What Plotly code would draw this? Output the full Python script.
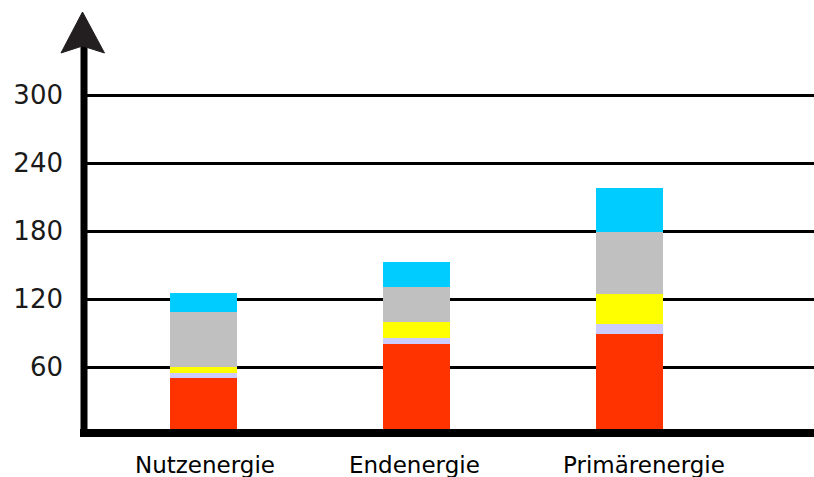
import plotly.graph_objects as go

# ---- data ----
categories = ["Nutzenergie", "Endenergie", "Primärenergie"]
red_vals = [51, 81, 89]
lavender_vals = [4, 5, 9]
yellow_vals = [5, 14, 27]
gray_vals = [49, 31, 54]
cyan_vals = [17, 22, 39]
y_ticks = [60, 120, 180, 240, 300]

series = [
    (red_vals, "#FF3300"),
    (lavender_vals, "#CCCCFF"),
    (yellow_vals, "#FFFF00"),
    (gray_vals, "#C0C0C0"),
    (cyan_vals, "#00CCFF"),
]

W, H = 814, 477
ML, MR, MT, MB = 84, 0, 0, 0
PW, PH = W - ML - MR, H - MT - MB

def px_x(px):
    return (px - ML) / PW

def px_y(py):
    return (H - MB - py) / PH

fig = go.Figure()
xs = list(range(len(categories)))
for vals, col in series:
    fig.add_trace(go.Bar(x=xs, y=vals, marker=dict(color=col, line=dict(width=0)),
                         width=0.3146, showlegend=False, hoverinfo="skip"))

# category labels
label_shift = [1, -2, 14]
for i, (c, s) in enumerate(zip(categories, label_shift)):
    fig.add_annotation(x=i, y=0, xref="x", yref="y", text=c, showarrow=False,
                       yanchor="top", yshift=-15, xshift=s,
                       font=dict(family="DejaVu Sans", size=23, color="#000000"))

shapes = []
# x axis line
shapes.append(dict(type="line", xref="paper", yref="paper", x0=px_x(80), x1=1,
                   y0=px_y(433), y1=px_y(433), line=dict(color="#000000", width=8), layer="above"))
# y axis line
shapes.append(dict(type="line", xref="paper", yref="paper", x0=px_x(84), x1=px_x(84),
                   y0=px_y(437), y1=px_y(46), line=dict(color="#000000", width=7), layer="above"))
# arrow head
pts = [(82.5, 12), (104.5, 53), (82.5, 46), (61, 53)]
path = "M " + " L ".join(f"{px_x(a):.5f},{px_y(b):.5f}" for a, b in pts) + " Z"
shapes.append(dict(type="path", xref="paper", yref="paper", path=path,
                   fillcolor="#231F20", line=dict(color="#231F20", width=1), layer="above"))

y0 = -(H - 435.3) / (68 / 60)
y1 = 435.3 / (68 / 60)
fig.update_layout(
    width=W, height=H, margin=dict(l=ML, r=MR, t=MT, b=MB),
    paper_bgcolor="white", plot_bgcolor="white", barmode="stack", bargap=0,
    showlegend=False, shapes=shapes,
    xaxis=dict(range=[(ML - 203.5) / 213, (W - 203.5) / 213], showgrid=False,
               zeroline=False, showticklabels=False, fixedrange=True),
    yaxis=dict(range=[y0, y1], tickvals=y_ticks, ticktext=[str(v) for v in y_ticks],
               showgrid=True, gridcolor="#000000", gridwidth=3, zeroline=False,
               ticks="", ticklabelstandoff=20,
               tickfont=dict(family="DejaVu Sans", size=26, color="#1a1a1a")),
)

fig.write_html("out.html", config={"displayModeBar": False},
               post_script="document.body.style.margin='0';document.body.style.overflow='hidden';")
